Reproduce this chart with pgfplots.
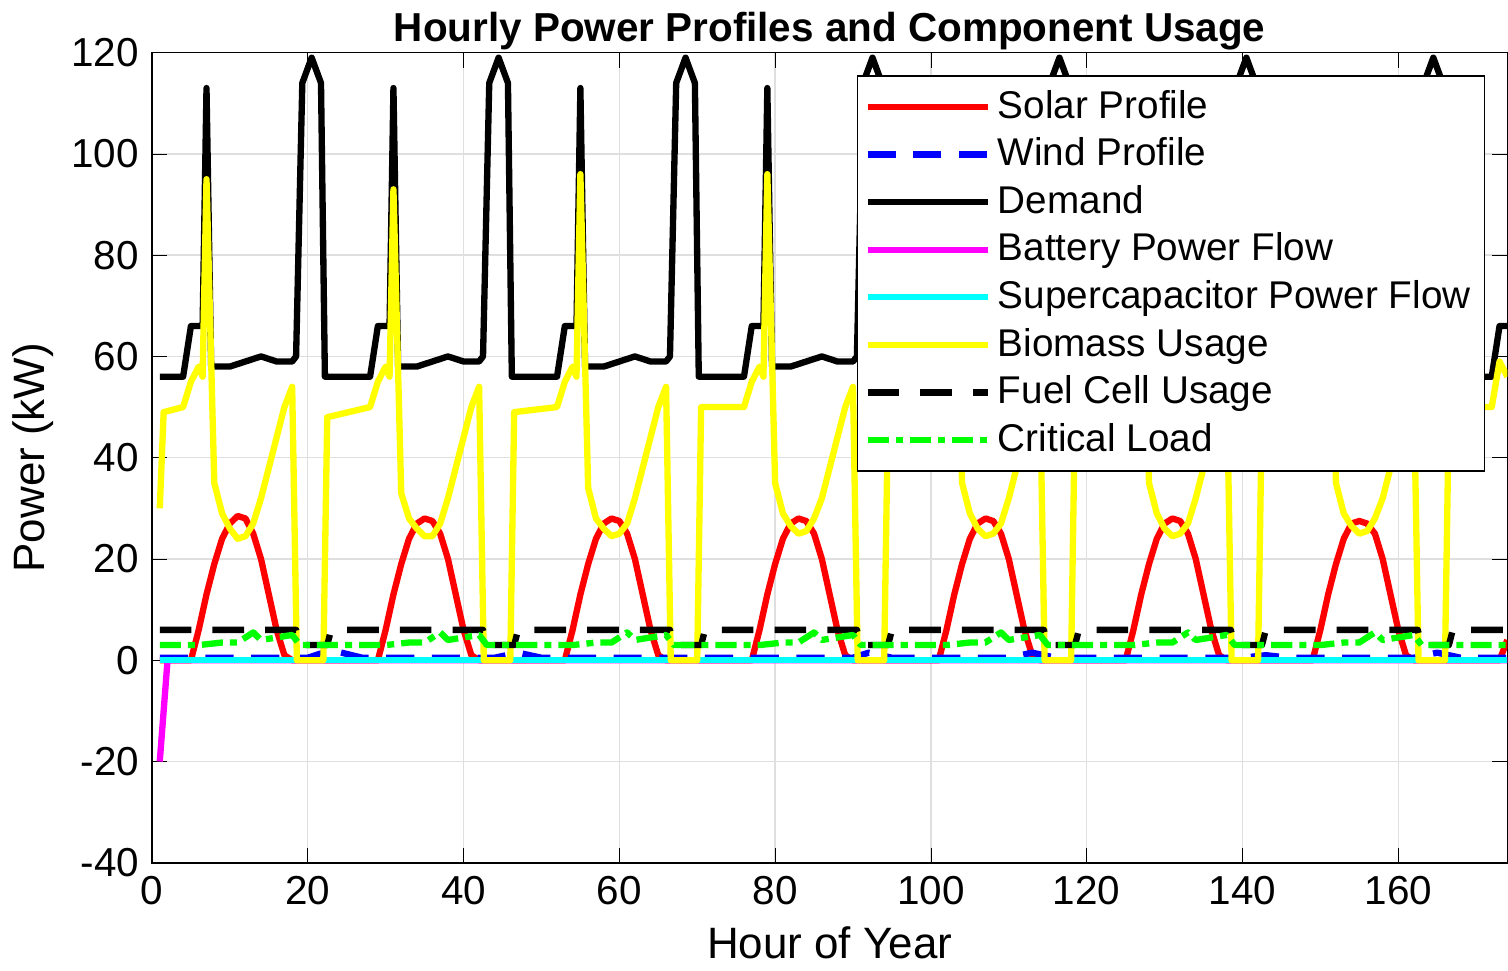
\documentclass[border=0pt]{standalone}
\usepackage{pgfplots}
\pgfplotsset{compat=1.18}
\usepackage{fontspec}
\setmainfont{Liberation Sans}
\definecolor{mag}{rgb}{1,0,1}
\definecolor{cy}{rgb}{0,1,1}
\definecolor{bl}{rgb}{0,0,1}
\definecolor{gr}{rgb}{0,1,0}
\definecolor{ye}{rgb}{1,1,0}
\definecolor{re}{rgb}{1,0,0}
\begin{document}
\fontsize{10.5}{12}\selectfont
\begin{tikzpicture}
\begin{axis}[
  scale only axis, width=13.55cm, height=8.1cm,
  xmin=0, xmax=174, ymin=-40, ymax=120,
  xtick={0,20,...,160}, ytick={-40,-20,...,120},
  grid=major, grid style={gray!25},
  tick align=inside, tick style={black},
  /pgf/number format/assume math mode=true,
  ticklabel style={font=\fontsize{11.5}{13}\selectfont},
  title={\bfseries Hourly Power Profiles and Component Usage},
  title style={font=\fontsize{11.5}{13}\selectfont, yshift=-9pt},
  xlabel={Hour of Year}, ylabel={Power (kW)},
  label style={font=\fontsize{12.5}{14}\selectfont},
  xlabel style={yshift=1pt}, ylabel style={yshift=-2pt},
  legend style={at={(0.52,0.972)}, anchor=north west, font=\fontsize{11}{12.5}\selectfont, draw=black, row sep=0pt, inner sep=2pt},
  legend cell align=left,
  legend image code/.code={\draw[#1, line width=1.8pt] (0cm,0cm) -- (1.2cm,0cm);},
  every axis plot/.append style={line width=1.8pt, line join=round},
]
\addplot[re] coordinates {(1,0)
(5,0)(6,6)(7,13)(8,19)(9,24)(10,27)(11,28.5)(12,28)(13,25)(14,20)(15,13)(16,6)(17,1)(18,0)
(29,0)(30,6)(31,13)(32,19)(33,24)(34,27)(35,28)(36,27.5)(37,25)(38,20)(39,13)(40,6)(41,1)(42,0)
(53,0)(54,6)(55,13)(56,19)(57,24)(58,27)(59,28)(60,27.5)(61,25)(62,20)(63,13)(64,6)(65,1)(66,0)
(77,0)(78,6)(79,13)(80,19)(81,24)(82,27)(83,28)(84,27.5)(85,25)(86,20)(87,13)(88,6)(89,1)(90,0)
(101,0)(102,6)(103,13)(104,19)(105,24)(106,27)(107,28)(108,27.5)(109,25)(110,20)(111,13)(112,6)(113,1)(114,0)
(125,0)(126,6)(127,13)(128,19)(129,24)(130,27)(131,28)(132,27.5)(133,25)(134,20)(135,13)(136,6)(137,1)(138,0)
(149,0)(150,6)(151,13)(152,19)(153,24)(154,27)(155,27.5)(156,27)(157,25)(158,20)(159,13)(160,6)(161,1)(162,0)
(173,0)(174,4)};
\addlegendentry{Solar Profile}
\addplot[bl, dash pattern=on 8pt off 5pt] coordinates {(1,0.5)(20,0.5)(23,2)(27,0.5)(44,0.5)(47,1.5)(50,0.5)(90,0.5)(92,1.5)(95,0.5)(110,0.5)(113,1.5)(116,0.5)(140,0.5)(143,1)(146,0.5)(162,0.5)(165,1.5)(168,0.5)(174,0.5)};
\addlegendentry{Wind Profile}
\addplot[black] coordinates {
(1,56)(4,56)(5,66)(6.5,66)(7,113)(7.6,58)(10,58)(12,59)(14,60)(16,59)(18,59)(18.5,60)(19.3,114)(20.5,119)(21.7,114)(22.2,56)
(28,56)(29,66)(30.5,66)(31,113)(31.6,58)(34,58)(36,59)(38,60)(40,59)(42,59)(42.5,60)(43.3,114)(44.5,119)(45.7,114)(46.2,56)
(52,56)(53,66)(54.5,66)(55,113)(55.6,58)(58,58)(60,59)(62,60)(64,59)(66,59)(66.5,60)(67.3,114)(68.5,119)(69.7,114)(70.2,56)
(76,56)(77,66)(78.5,66)(79,113)(79.6,58)(82,58)(84,59)(86,60)(88,59)(90,59)(90.5,60)(91.3,114)(92.5,119)(93.7,114)(94.2,56)
(100,56)(101,66)(102.5,66)(103,113)(103.6,58)(106,58)(108,59)(110,60)(112,59)(114,59)(114.5,60)(115.3,114)(116.5,119)(117.7,114)(118.2,56)
(124,56)(125,66)(126.5,66)(127,113)(127.6,58)(130,58)(132,59)(134,60)(136,59)(138,59)(138.5,60)(139.3,114)(140.5,119)(141.7,114)(142.2,56)
(148,56)(149,66)(150.5,66)(151,113)(151.6,58)(154,58)(156,59)(158,60)(160,59)(162,59)(162.5,60)(163.3,114)(164.5,119)(165.7,114)(166.2,56)
(172,56)(173,66)(174,66)};
\addlegendentry{Demand}
\addplot[mag] coordinates {(1,-20)(2,0)(174,0)};
\addlegendentry{Battery Power Flow}
\addplot[cy] coordinates {(1,0)(174,0)};
\addlegendentry{Supercapacitor Power Flow}
\addplot[ye] coordinates {
(1,30)(1.5,49)(4,50)(5,55)(6,58)(6.5,56)(7,95)(8,35)(9,29)(10,26)(11,24)(12,24.5)(13,27)(14,32)(15,38)(16,44)(17,50)(18,54)(18.6,0)(22,0)(22.5,48)
(28,50)(29,55)(30,58)(30.5,56)(31,93)(32,33)(33,28)(34,26)(35,24.5)(36,24.5)(37,27)(38,32)(39,38)(40,44)(41,50)(42,54)(42.6,0)(46,0)(46.5,49)
(52,50)(53,55)(54,58)(54.5,56)(55,96)(56,34)(57,28)(58,26)(59,24.5)(60,25)(61,27)(62,32)(63,38)(64,44)(65,50)(66,54)(66.6,0)(70,0)(70.5,50)
(76,50)(77,55)(78,58)(78.5,56)(79,96)(80,35)(81,29)(82,26.5)(83,25)(84,25.5)(85,28)(86,32)(87,38)(88,44)(89,50)(90,54)(90.6,0)(94,0)(94.5,50)
(100,50)(101,55)(102,58)(102.5,56)(103,95)(104,35)(105,29)(106,26)(107,24.5)(108,25)(109,27)(110,32)(111,38)(112,44)(113,50)(114,54)(114.6,0)(118,0)(118.5,50)
(124,50)(125,55)(126,58)(126.5,56)(127,95)(128,35)(129,29)(130,26)(131,24.5)(132,25)(133,27)(134,32)(135,38)(136,44)(137,50)(138,54)(138.6,0)(142,0)(142.5,50)
(148,50)(149,55)(150,58)(150.5,56)(151,95)(152,35)(153,29)(154,26.5)(155,25)(156,25.5)(157,28)(158,32)(159,38)(160,44)(161,50)(162,54)(162.6,0)(166,0)(166.5,50)
(172,50)(173,59)(174,56)};
\addlegendentry{Biomass Usage}
\addplot[black, dash pattern=on 9pt off 6pt] coordinates {(1,6)(18.5,6)(19,3)(22.5,3)(23,6)(42.5,6)(43,3)(46.5,3)(47,6)(66.5,6)(67,3)(70.5,3)(71,6)(90.5,6)(91,3)(94.5,3)(95,6)(114.5,6)(115,3)(118.5,3)(119,6)(138.5,6)(139,3)(142.5,3)(143,6)(162.5,6)(163,3)(166.5,3)(167,6)(174,6)};
\addlegendentry{Fuel Cell Usage}
\addplot[gr, dash pattern=on 6pt off 2pt on 2pt off 2pt] coordinates {
(1,3)(6,3)(9,3.5)(11,3.5)(13,5.5)(14,4)(16,4.5)(18,5)(19,3)
(30,3)(33,3.5)(35,3.5)(37,5.5)(38,4)(40,4.5)(42,5)(43,3)
(54,3)(57,3.5)(59,3.5)(61,5.5)(62,4)(64,4.5)(66,5)(67,3)
(78,3)(81,3.5)(83,3.5)(85,5.5)(86,4)(88,4.5)(90,5)(91,3)
(102,3)(105,3.5)(107,3.5)(109,5.5)(110,4)(112,4.5)(114,5)(115,3)
(126,3)(129,3.5)(131,3.5)(133,5.5)(134,4)(136,4.5)(138,5)(139,3)
(150,3)(153,3.5)(155,3.5)(157,5.5)(158,4)(160,4.5)(162,5)(163,3)(174,3)};
\addlegendentry{Critical Load}
\end{axis}
\end{tikzpicture}
\end{document}
